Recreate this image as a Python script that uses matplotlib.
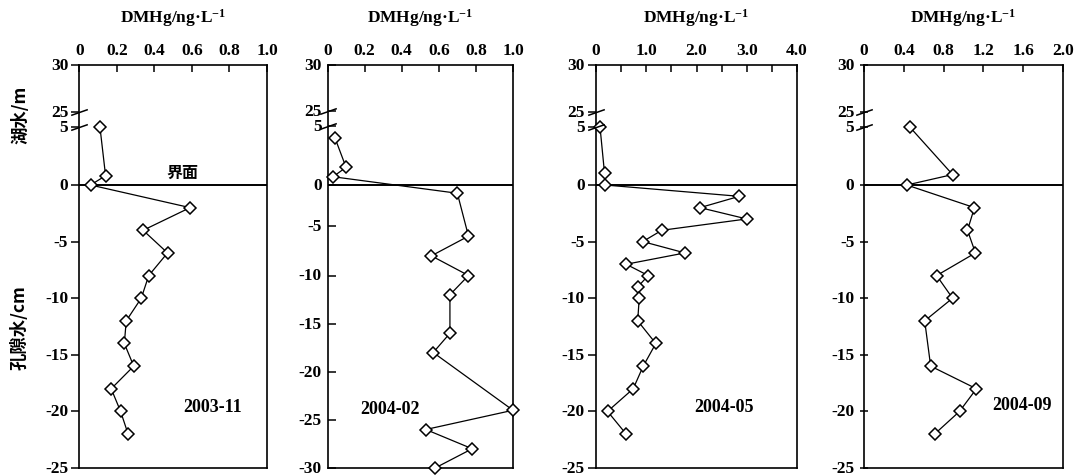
import numpy as np
import matplotlib
matplotlib.use("Agg")
import matplotlib.pyplot as plt
from matplotlib.path import Path
from matplotlib.ticker import FixedLocator, NullLocator

plt.rcParams['font.family'] = ['Liberation Serif', 'Noto Sans CJK SC']
plt.rcParams['font.weight'] = 'bold'
plt.rcParams['mathtext.fontset'] = 'custom'
plt.rcParams['mathtext.rm'] = 'Liberation Serif:bold'
plt.rcParams['mathtext.bf'] = 'Liberation Serif:bold'
plt.rcParams['mathtext.it'] = 'Liberation Serif:bold'

# ---------------- data ----------------
# lake water: depth in m ; pore water: depth in cm (negative)
p1_lake_depth = [5, 0.8, 0]
p1_lake_val = [0.11, 0.14, 0.06]
p1_pore_depth = [-2, -4, -6, -8, -10, -12, -14, -16, -18, -20, -22]
p1_pore_val = [0.59, 0.34, 0.47, 0.37, 0.33, 0.25, 0.24, 0.29, 0.17, 0.22, 0.26]

p2_lake_depth = [4, 1.5, 0.7]
p2_lake_val = [0.04, 0.10, 0.03]
p2_pore_depth = [-1, -6, -8, -10, -12, -16, -18, -24, -26, -28, -30]
p2_pore_val = [0.70, 0.76, 0.56, 0.76, 0.66, 0.66, 0.57, 1.00, 0.53, 0.78, 0.58]

p3_lake_depth = [5, 1, 0]
p3_lake_val = [0.08, 0.17, 0.18]
p3_pore_depth = [-1, -2, -3, -4, -5, -6, -7, -8, -9, -10, -12, -14, -16, -18, -20, -22]
p3_pore_val = [2.85, 2.07, 3.00, 1.31, 0.93, 1.77, 0.60, 1.04, 0.83, 0.86, 0.83,
               1.19, 0.94, 0.74, 0.23, 0.60]

p4_lake_depth = [5, 0.9, 0]
p4_lake_val = [0.46, 0.89, 0.43]
p4_pore_depth = [-2, -4, -6, -8, -10, -12, -16, -18, -20, -22]
p4_pore_val = [1.11, 1.04, 1.12, 0.73, 0.89, 0.61, 0.67, 1.13, 0.96, 0.71]

dates = ['2003-11', '2004-02', '2004-05', '2004-09']

x_ticks_1 = [0, 0.2, 0.4, 0.6, 0.8, 1.0]
x_labels_1 = ['0', '0.2', '0.4', '0.6', '0.8', '1.0']
x_ticks_3 = [0, 1, 2, 3, 4]
x_labels_3 = ['0', '1.0', '2.0', '3.0', '4.0']
x_minor_3 = [0.5, 1.5, 2.5, 3.5]
x_ticks_4 = [0, 0.4, 0.8, 1.2, 1.6, 2.0]
x_labels_4 = ['0', '0.4', '0.8', '1.2', '1.6', '2.0']

y_ticks_25 = [-25, -20, -15, -10, -5, 0, 5, 25, 30]
y_labels_25 = ['-25', '-20', '-15', '-10', '-5', '0', '5', '25', '30']
y_ticks_30 = [-30, -25, -20, -15, -10, -5, 0, 5, 25, 30]
y_labels_30 = ['-30', '-25', '-20', '-15', '-10', '-5', '0', '5', '25', '30']

x_title = 'DMHg/ng·L$^{-1}$'

# ---------------- layout ----------------
W, H = 1075, 477
TOP, BOT = 66, 469


def make_scale(dnodes, pnodes):
    d = np.asarray(dnodes, float)
    p = np.asarray(pnodes, float)

    def build(a, b):
        def f(v):
            v = np.asarray(v, float)
            out = np.interp(v, a, b)
            lo_s = (b[1] - b[0]) / (a[1] - a[0])
            hi_s = (b[-1] - b[-2]) / (a[-1] - a[-2])
            out = np.where(v < a[0], b[0] + (v - a[0]) * lo_s, out)
            out = np.where(v > a[-1], b[-1] + (v - a[-1]) * hi_s, out)
            return out
        return f
    return build(d, p), build(p, d)


# pixel rows (from top) of the y break points, per panel
scale_std = ([-25, 0, 5, 25, 30], [469, 186, 128, 113, 66])
scale_p2 = ([-30, -10, -5, 0, 5, 25, 30], [469, 276.5, 227.3, 186, 127, 112, 66])

panels = [
    dict(l=79.3, r=267, xmax=1.0, xt=x_ticks_1, xl=x_labels_1, xm=None,
         yt=y_ticks_25, yl=y_labels_25, ymin=-25, sc=scale_std, tdir='out',
         lake=(p1_lake_val, p1_lake_depth), pore=(p1_pore_val, p1_pore_depth),
         dpos=(0.71, 0.153)),
    dict(l=327.5, r=513, xmax=1.0, xt=x_ticks_1, xl=x_labels_1, xm=None,
         yt=y_ticks_30, yl=y_labels_30, ymin=-30, sc=scale_p2, tdir='in',
         lake=(p2_lake_val, p2_lake_depth), pore=(p2_pore_val, p2_pore_depth),
         dpos=(0.337, 0.148)),
    dict(l=596, r=797, xmax=4.0, xt=x_ticks_3, xl=x_labels_3, xm=x_minor_3,
         yt=y_ticks_25, yl=y_labels_25, ymin=-25, sc=scale_std, tdir='out',
         lake=(p3_lake_val, p3_lake_depth), pore=(p3_pore_val, p3_pore_depth),
         dpos=(0.635, 0.153)),
    dict(l=864, r=1063, xmax=2.0, xt=x_ticks_4, xl=x_labels_4, xm=None,
         yt=y_ticks_25, yl=y_labels_25, ymin=-25, sc=scale_std, tdir='inout',
         lake=(p4_lake_val, p4_lake_depth), pore=(p4_pore_val, p4_pore_depth),
         dpos=(0.795, 0.157)),
]

fig = plt.figure(figsize=(W / 100, H / 100), dpi=100)
fig.patch.set_facecolor('white')

brk = Path([(-1, -0.35), (1, 0.35)], [Path.MOVETO, Path.LINETO])

for i, P in enumerate(panels):
    ax = fig.add_axes([P['l'] / W, (H - BOT) / H, (P['r'] - P['l']) / W, (BOT - TOP) / H])
    dn, pn = P['sc']
    fwd, inv = make_scale(dn, [BOT - v for v in pn])
    ax.set_yscale('function', functions=(fwd, inv))
    ax.set_ylim(P['ymin'], 30)
    ax.set_xlim(0, P['xmax'])

    xs = list(P['lake'][0]) + list(P['pore'][0])
    ys = list(P['lake'][1]) + list(P['pore'][1])
    ax.plot(xs, ys, color='black', lw=0.9, marker='D', ms=6.5, mfc='white',
            mec='black', mew=1.1, clip_on=False, zorder=3)

    ax.axhline(0, color='black', lw=1.4, zorder=2)

    for s in ax.spines.values():
        s.set_linewidth(1.2)

    ax.xaxis.tick_top()
    ax.xaxis.set_major_locator(FixedLocator(P['xt']))
    ax.set_xticklabels(P['xl'])
    if P['xm'] is not None:
        ax.xaxis.set_minor_locator(FixedLocator(P['xm']))
    else:
        ax.xaxis.set_minor_locator(NullLocator())
    ax.tick_params(axis='x', which='both', direction='in', length=5, width=1.1,
                   pad=5, labelsize=12.5, top=True, bottom=False)

    ax.yaxis.set_major_locator(FixedLocator(P['yt']))
    ax.yaxis.set_minor_locator(NullLocator())
    ax.set_yticklabels(P['yl'])
    ax.tick_params(axis='y', which='both', direction=P['tdir'], length=6, width=1.1,
                   pad=2 if P['tdir'] == 'out' else 4, labelsize=12.5, right=False)
    for lab in ax.get_yticklabels():
        lab.set_verticalalignment('center')

    # axis break marks on the left spine
    ax.plot([0, 0], [25, 5], transform=ax.get_yaxis_transform(), ls='none',
            marker=brk, ms=12, mew=1.1, color='black', clip_on=False, zorder=4)

    ax.text(0.5, 1 + 48 / (BOT - TOP), x_title, transform=ax.transAxes,
            ha='center', va='center', fontsize=12.5, fontweight='bold')
    ax.text(P['dpos'][0], P['dpos'][1], dates[i], transform=ax.transAxes,
            ha='center', va='center', fontsize=13, fontweight='bold')

    if i == 0:
        ax.text(0.55, (BOT - 173) / (BOT - TOP), '界面', transform=ax.transAxes,
                ha='center', va='center', fontsize=11.5, fontweight='bold',
                family=['Noto Sans CJK SC', 'DejaVu Sans'])

fig.text(20 / W, 1 - 115 / H, '湖水/m', rotation=90, ha='center', va='center',
         fontsize=12.5, fontweight='bold', family=['Noto Sans CJK SC', 'DejaVu Sans'])
fig.text(20 / W, 1 - 328 / H, '孔隙水/cm', rotation=90, ha='center', va='center',
         fontsize=12.5, fontweight='bold', family=['Noto Sans CJK SC', 'DejaVu Sans'])

fig.savefig('out.png', dpi=100, facecolor='white')
